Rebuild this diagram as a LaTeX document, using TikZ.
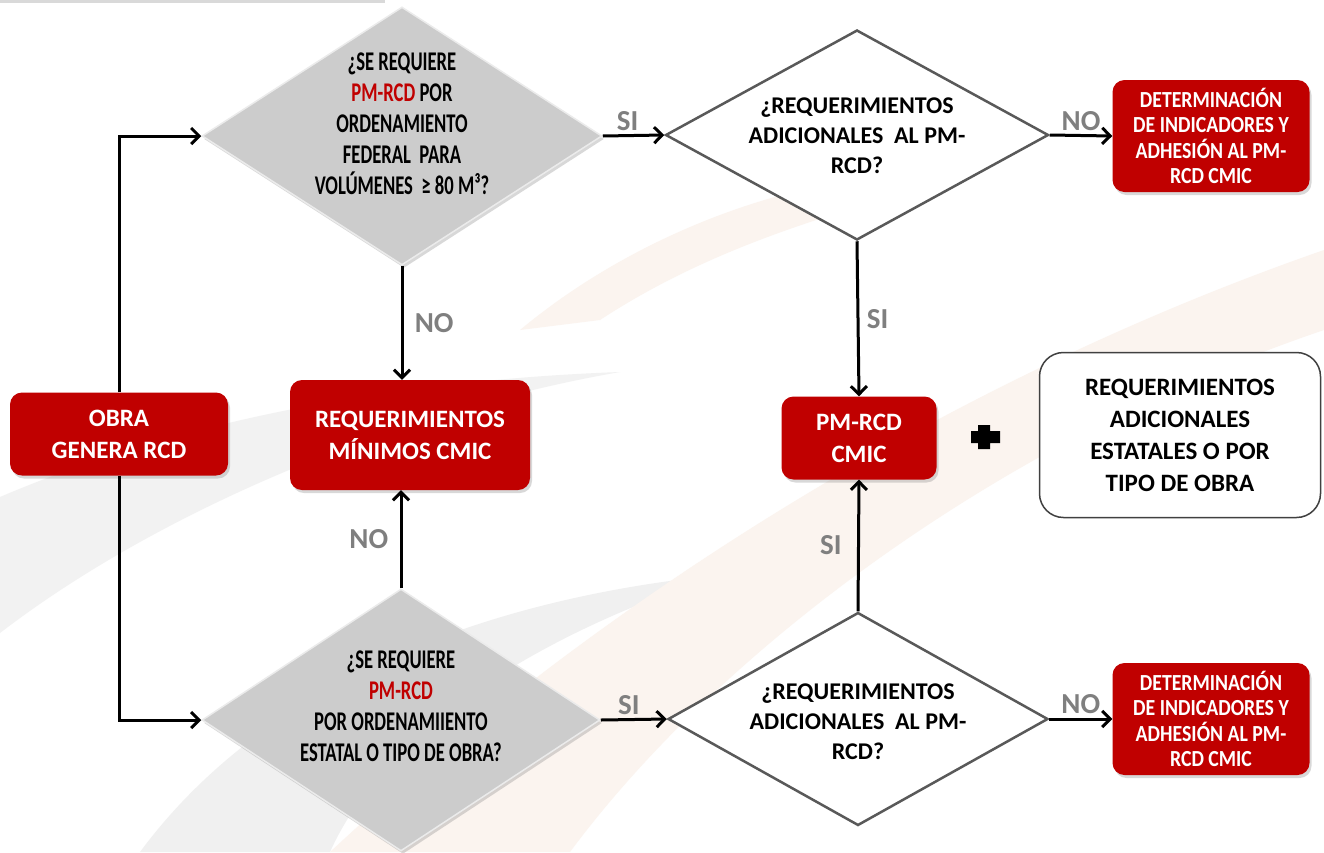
\documentclass[tikz,border=0pt]{standalone}
\usepackage{fontspec}
\setmainfont{Carlito}
\newfontfamily\condfont[FakeStretch=0.69]{Carlito}
\newfontfamily\detfont[FakeStretch=0.86]{Carlito}
\usetikzlibrary{shapes.geometric,arrows.meta,shadows}
\definecolor{rojo}{HTML}{C00000}
\definecolor{gristxt}{HTML}{7F7F7F}
\definecolor{borde}{HTML}{595959}
\definecolor{durazno}{HTML}{FBF4EF}
\tikzset{
  sombra/.style={drop shadow={opacity=0.3,shadow xshift=2pt,shadow yshift=-3pt}},
  caja/.style={rounded corners=12pt,fill=rojo,text=white,align=center,inner sep=0pt,
    font=\fontsize{25}{32}\selectfont\bfseries,sombra},
  det/.style={caja,font=\detfont\fontsize{23}{25.5}\selectfont\bfseries,
    minimum width=197pt,minimum height=112pt},
  rombo/.style={diamond,fill=black!20,draw=black!8,line width=1.5pt,inner sep=0pt,sombra},
  pregunta/.style={diamond,fill=white,draw=borde,line width=2.5pt,inner sep=0pt},
  txtrombo/.style={align=center,font=\condfont\fontsize{27}{31}\selectfont\bfseries},
  txtpreg/.style={align=center,font=\fontsize{24}{30}\selectfont\bfseries},
  rotulo/.style={text=gristxt,font=\fontsize{29}{29}\selectfont\bfseries},
  flecha/.style={line width=3pt,-{Straight Barb[length=8pt,width=16pt]}}
}

\begin{document}
\begin{tikzpicture}[x=1pt,y=-1pt]
  \useasboundingbox (0,0) rectangle (1324,852);
  \fill[white] (0,0) rectangle (1324,852);
  % fondo
  \fill[black!5] (0,497) .. controls (180,420) and (400,380) .. (620,372)
    .. controls (400,410) and (160,510) .. (0,633) -- cycle;
  \fill[black!6] (140,852) .. controls (260,690) and (470,600) .. (720,575)
    .. controls (520,640) and (380,740) .. (330,852) -- cycle;
  \fill[durazno] (330,852) .. controls (600,600) and (950,380) .. (1324,250)
    -- (1324,330) .. controls (1000,440) and (720,650) .. (570,852) -- cycle;
  \fill[durazno] (520,330) .. controls (640,230) and (800,175) .. (920,175)
    .. controls (930,200) and (760,215) .. (600,320) -- cycle;
  \fill[black!15] (0,0) rectangle (385,3);

  \node [rombo,minimum width=400pt,minimum height=258pt] (d1) at (402,136) {};
  \node [txtrombo] (d1t) at (402,124) {¿SE REQUIERE\\ \textcolor{rojo}{PM-RCD} POR\\ ORDENAMIENTO\\ FEDERAL~ PARA\\ VOLÚMENES~ ≥ 80 M³?};
  \node [pregunta,minimum width=383pt,minimum height=210pt] (d2) at (857,135) {};
  \node [txtpreg] (d2t) at (857,136) {¿REQUERIMIENTOS\\ ADICIONALES~ AL PM-\\ RCD?};
  \node [rombo,minimum width=398pt,minimum height=262pt] (d3) at (401,720) {};
  \node [txtrombo] (d3t) at (401,706) {¿SE REQUIERE\\ \textcolor{rojo}{PM-RCD}\\ POR ORDENAMIIENTO\\ ESTATAL O TIPO DE OBRA?};
  \node [pregunta,minimum width=380pt,minimum height=213pt] (d4) at (858,719) {};
  \node [txtpreg] (d4t) at (858,722) {¿REQUERIMIENTOS\\ ADICIONALES~ AL PM-\\ RCD?};

  \node [caja,minimum width=218pt,minimum height=83pt] (obra) at (119,434) {OBRA\\ GENERA RCD};
  \node [caja,minimum width=240pt,minimum height=110pt] (reqmin) at (410,435) {REQUERIMIENTOS\\ MÍNIMOS CMIC};
  \node [caja,minimum width=155pt,minimum height=83pt] (pm) at (859,438) {PM-RCD\\ CMIC};
  \node [det] (det1) at (1211,136) {DETERMINACIÓN\\ DE INDICADORES Y\\ ADHESIÓN AL PM-\\ RCD CMIC};
  \node [det] (det2) at (1211,719) {DETERMINACIÓN\\ DE INDICADORES Y\\ ADHESIÓN AL PM-\\ RCD CMIC};
  \node [draw=black!75,line width=1.5pt,rounded corners=24pt,fill=white,align=center,
    minimum width=281pt,minimum height=165pt,font=\fontsize{25}{32}\selectfont\bfseries]
    (adic) at (1180,435) {REQUERIMIENTOS\\ ADICIONALES\\ ESTATALES O POR\\ TIPO DE OBRA};
  \fill (971,431) rectangle (1000,443) (978,425) rectangle (990,449);

  \draw [flecha] (obra.north) |- (d1.west);
  \draw [flecha] (obra.south) |- (d3.west);
  \draw [flecha] (d1.east) -- node [rotulo,above,xshift=-6pt] {SI} (d2.west);
  \draw [flecha] (d2.east) -- node [rotulo,above] {NO} (det1.west);
  \draw [flecha] (d2.south) -- node [rotulo,right,xshift=4pt] {SI} (pm.north);
  \draw [flecha] (d1.south) -- node [rotulo,right,xshift=8pt] {NO} (d1.south |- reqmin.north);
  \draw [flecha] (d3.north) -- node [rotulo,left,xshift=-8pt] {NO} (d3.north |- reqmin.south);
  \draw [flecha] (d3.east) -- node [rotulo,above,xshift=-5pt] {SI} (d4.west);
  \draw [flecha] (d4.north) -- node [rotulo,left,xshift=-12pt] {SI} (pm.south);
  \draw [flecha] (d4.east) -- node [rotulo,above] {NO} (det2.west);
\end{tikzpicture}
\end{document}
